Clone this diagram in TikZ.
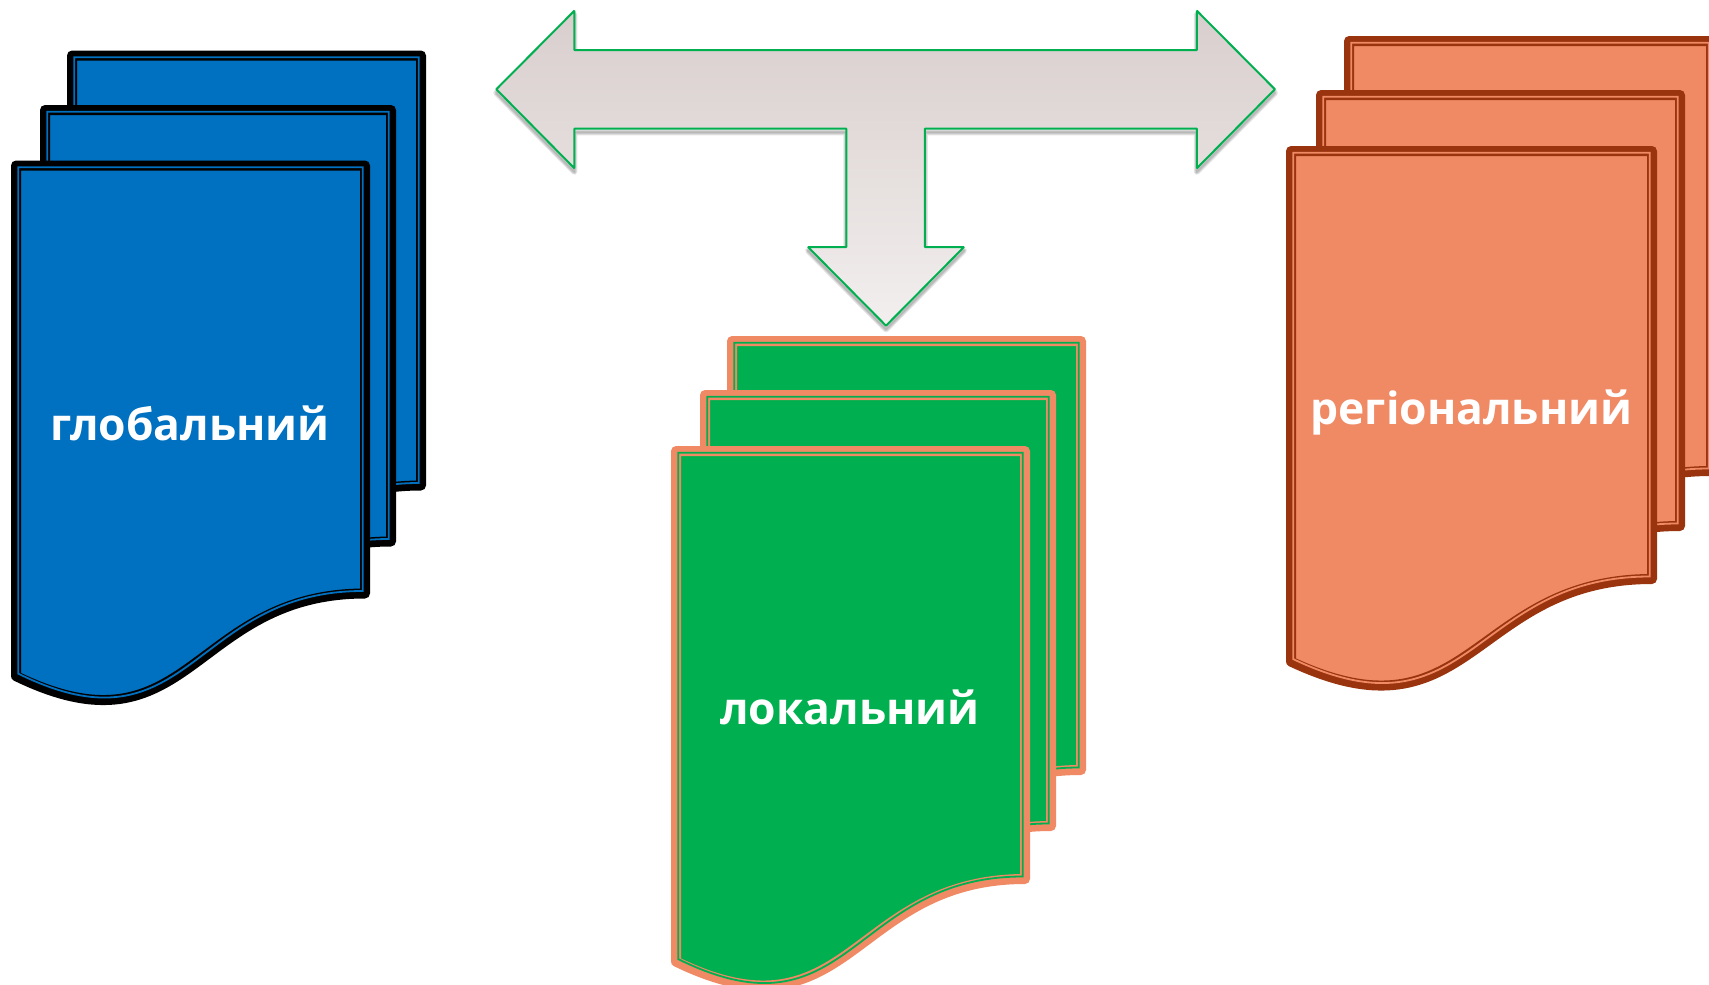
\documentclass[tikz,border=0pt]{standalone}
\usepackage{fontspec}
\setmainfont{Open Sans}
\usetikzlibrary{positioning,calc}

\definecolor{sheetblue}{HTML}{0070C0}
\definecolor{sheetgreen}{HTML}{00B050}
\definecolor{sheetorange}{HTML}{EF8A65}
\definecolor{edgebrown}{HTML}{99340F}
\definecolor{arrowgreen}{HTML}{00B050}
\definecolor{arrowtop}{HTML}{D8CECD}
\definecolor{arrowbottom}{HTML}{F2EFEE}

\tikzset{
    sheetedge/.style={draw=#1,line width=5pt,line join=round},
    sheetgap/.style={draw=#1,line width=0.9pt,line join=miter},
    doclabel/.style={text=white,font=\bfseries\fontsize{22.2pt}{28pt}\selectfont,inner sep=0pt,anchor=base},
    arrowbody/.style={draw=arrowgreen,line width=1pt,line join=bevel,top color=arrowtop,bottom color=arrowbottom},
    arrowshade/.style={draw=black,line join=round,opacity=0.1,yshift=-1.8pt}
}

% left, top, right, bottom of the right side
\newcommand{\docsheet}[6]{%
    \pgfmathsetmacro{\midx}{(#3+#5)/2}
    \pgfmathsetmacro{\lefty}{#4+1.193*(#6-#4)}
    \pgfmathsetmacro{\ctrly}{#4+1.391*(#6-#4)}
    \draw[sheetedge=#2,fill=#1] (#3,#4) -- (#5,#4) -- (#5,#6)
        .. controls (\midx,#6) and (\midx,\ctrly) .. (#3,\lefty) -- cycle;
    \draw[sheetgap=#1] (#3+2.2,#4+1.8) -- (#5-2.2,#4+1.8) -- (#5-2.2,#6-2.5)
        .. controls (\midx,#6-2.5) and (\midx,\ctrly-2.5) .. (#3+2.2,\lefty-2.5) -- cycle;
}
\newcommand{\arrowpath}{(496.3,89.3) -- (574.4,10.7) -- (574.4,50) -- (1196.8,50) -- (1196.8,10.7) -- (1274.9,89.3) -- (1196.8,168.3) -- (1196.8,128.7) -- (924.9,128.7) -- (924.9,247) -- (964,247) -- (886,325.7) -- (808,247) -- (846.3,247) -- (846.3,128.7) -- (574.4,128.7) -- (574.4,168.3) -- cycle}

\begin{document}
\begin{tikzpicture}[x=0.5pt,y=-0.5pt]
    \useasboundingbox (0,0) rectangle (1709,985);
    \clip (0,0) rectangle (1709,985);

    % Arrow
    \foreach \w in {3pt,2pt,1pt}
        \draw[arrowshade,line width=\w] \arrowpath;
    \draw[arrowbody] \arrowpath;

    % Global
    \docsheet{sheetblue}{black}{72}{55.5}{421}{485.5}
    \docsheet{sheetblue}{black}{45}{110}{391}{541.5}
    \docsheet{sheetblue}{black}{16}{165.5}{365}{593.5}
    \node[doclabel] (global) at (190,440) {глобальний};

    % Local
    \docsheet{sheetgreen}{sheetorange}{732}{341}{1081}{770}
    \docsheet{sheetgreen}{sheetorange}{705}{395}{1051}{826}
    \docsheet{sheetgreen}{sheetorange}{676}{451}{1025}{879}
    \node[doclabel] (local) at (850,724) {локальний};

    % Regional
    \docsheet{sheetorange}{edgebrown}{1349}{41}{1711}{471}
    \docsheet{sheetorange}{edgebrown}{1321}{95}{1680}{526}
    \docsheet{sheetorange}{edgebrown}{1291}{151}{1652}{579}
    \node[doclabel] (regional) at (1471.5,424) {регіональний};
\end{tikzpicture}
\end{document}
